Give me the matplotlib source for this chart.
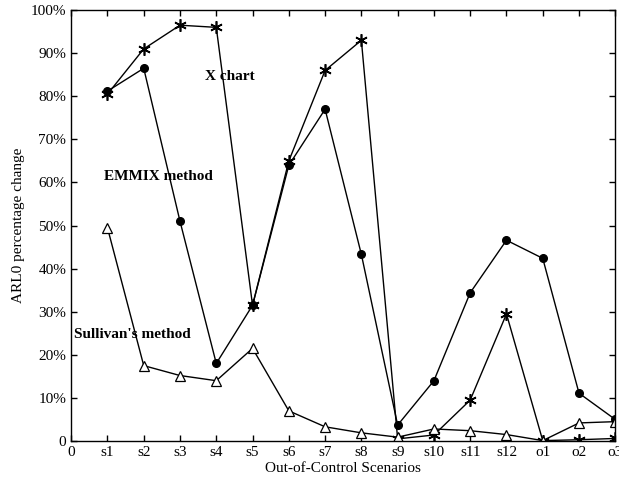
import matplotlib
matplotlib.use("Agg")
import matplotlib.pyplot as plt

plt.rcParams['font.family'] = ['Liberation Serif', 'DejaVu Serif']

scenarios = ["s1", "s2", "s3", "s4", "s5", "s6", "s7", "s8", "s9", "s10", "s11", "s12", "o1", "o2", "o3"]
xchart = [80.5, 91, 96.5, 96, 31.5, 65, 86, 93, 0.5, 1.4, 9.5, 29.5, 0.1, 0.3, 0.6]
emmix = [81.2, 86.5, 51, 18, 31.5, 64, 77, 43.3, 3.7, 14, 34.4, 46.6, 42.4, 11.1, 5]
sullivan = [49.5, 17.5, 15.2, 14, 21.5, 7, 3.3, 1.9, 0.9, 2.8, 2.4, 1.5, 0.1, 4.2, 4.5]
yticks = list(range(0, 101, 10))
ytick_labels = ["0"] + [f"{v}%" for v in yticks[1:]]
xtick_labels = ["0"] + scenarios

fig = plt.figure(figsize=(6.19, 4.82), dpi=100)
ax = fig.add_axes([0.115, 0.085, 0.879, 0.894])

x = list(range(1, len(scenarios) + 1))
ax.plot(x, xchart, color='black', lw=1.0, marker=(6, 2, 0), ms=9, mew=1.2)
ax.plot(x, emmix, color='black', lw=1.0, marker='o', ms=5.5)
ax.plot(x, sullivan, color='black', lw=1.0, marker='^', ms=7, mfc='white', mec='black', mew=0.9)

ax.set_xlim(0, 15)
ax.set_ylim(0, 100)
ax.set_xticks(range(0, 16))
ax.set_xticklabels(xtick_labels)
ax.set_yticks(yticks)
ax.set_yticklabels(ytick_labels)
ax.tick_params(direction='in', top=True, right=True, labelsize=11, length=4, width=1)
for s in ax.spines.values():
    s.set_linewidth(1.0)

ax.set_xlabel("Out-of-Control Scenarios", fontsize=11, labelpad=2)
ax.set_ylabel("ARL0 percentage change", fontsize=11, labelpad=4)

ax.text(3.7, 84.7, "X chart", fontsize=11, fontweight='bold', va='center')
ax.text(0.9, 61.3, "EMMIX method", fontsize=11, fontweight='bold', va='center')
ax.text(0.08, 24.8, "Sullivan's method", fontsize=11, fontweight='bold', va='center')

fig.savefig("out.png", dpi=100)
